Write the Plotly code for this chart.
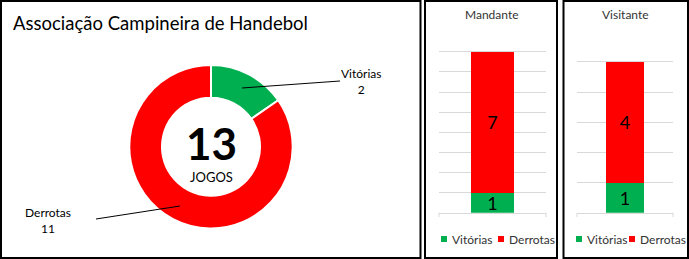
import plotly.graph_objects as go

# ---- data ----
categories = ["Vitórias", "Derrotas"]
total_values = [2, 11]
home_label = "Mandante"
home_values = [1, 7]
away_label = "Visitante"
away_values = [1, 4]
colors = ["#00B050", "#FF0000"]
title_text = "Associação Campineira de Handebol"
center_caption = "JOGOS"

W, H = 689, 259
FONT = "Lato"


def px(x):
    return x / W


def py(y):
    return 1 - y / H


fig = go.Figure()

# donut
cx, cy, r = 211, 146.7, 81.7
fig.add_trace(go.Pie(
    labels=categories, values=total_values, hole=0.6, sort=False,
    direction="clockwise", rotation=0, textinfo="none", hoverinfo="label+value",
    marker=dict(colors=colors, line=dict(color="white", width=2)),
    domain=dict(x=[px(cx - r), px(cx + r)], y=[py(cy + r), py(cy - r)]),
    showlegend=False,
))

# stacked bars
panels = [
    (home_label, home_values, "x2", "y2"),
    (away_label, away_values, "x3", "y3"),
]
for label, vals, xa, ya in panels:
    for cat, v, col in zip(categories, vals, colors):
        fig.add_trace(go.Bar(
            x=[label], y=[v], name=cat, marker=dict(color=col, line=dict(width=0)),
            text=[str(v)], textposition="inside", insidetextanchor="middle",
            constraintext="none", textangle=0,
            textfont=dict(size=18, color="#000000", family=FONT),
            xaxis=xa, yaxis=ya, showlegend=False,
        ))

axis_common_x = dict(showticklabels=False, showgrid=False, zeroline=False,
                     showline=True, linecolor="#D9D9D9", linewidth=1,
                     range=[-0.5, 0.5], fixedrange=True)
axis_common_y = dict(showticklabels=False, showgrid=True, gridcolor="#D9D9D9",
                     gridwidth=1, zeroline=False, showline=False, dtick=1,
                     fixedrange=True)

ydom = [py(212.7), py(31.7)]
fig.update_layout(
    width=W, height=H, margin=dict(l=0, r=0, t=0, b=0),
    paper_bgcolor="white", plot_bgcolor="white",
    barmode="stack", bargap=0.6,
    font=dict(family=FONT, color="#000000"),
    xaxis2=dict(domain=[px(439), px(546)], anchor="y2", **axis_common_x),
    yaxis2=dict(domain=ydom, anchor="x2", range=[0, 9], **axis_common_y),
    xaxis3=dict(domain=[px(577), px(673)], anchor="y3", **axis_common_x),
    yaxis3=dict(domain=ydom, anchor="x3", range=[0, 6], **axis_common_y),
)

shapes = []
annotations = []

# panel borders
for x0, x1 in [(1, 420.5), (425, 557), (563.5, 688)]:
    shapes.append(dict(type="rect", xref="paper", yref="paper",
                       x0=px(x0), x1=px(x1), y0=py(258), y1=py(1),
                       line=dict(color="black", width=2), fillcolor="rgba(0,0,0,0)"))

# axis end ticks
for xa in ["x2", "x3"]:
    for xd in [0, 1]:
        shapes.append(dict(type="line", xref=f"{xa} domain", yref="paper",
                           x0=xd, x1=xd, y0=py(212.7), y1=py(217),
                           line=dict(color="#D9D9D9", width=1)))

# title
annotations.append(dict(text=title_text, x=px(11), y=py(23), xref="paper", yref="paper",
                        xanchor="left", yanchor="middle", showarrow=False,
                        font=dict(size=18.5, color="#000000", family=FONT)))

# center text
annotations.append(dict(text=f"<b>{sum(total_values)}</b>", x=px(cx), y=py(143),
                        xref="paper", yref="paper", xanchor="center", yanchor="middle",
                        showarrow=False, font=dict(size=44, color="#000000", family=FONT)))
annotations.append(dict(text=center_caption, x=px(cx), y=py(177), xref="paper", yref="paper",
                        xanchor="center", yanchor="middle", showarrow=False,
                        font=dict(size=13, color="#000000", family=FONT)))

# slice labels + leader lines
label_pos = [(362, 81), (48, 220)]
leader = [((242, 88), (340, 81)), ((180, 206), (96, 219))]
for cat, v, (lx, ly), ((x0, y0), (x1, y1)) in zip(categories, total_values, label_pos, leader):
    annotations.append(dict(text=f"{cat}<br>{v}", x=px(lx), y=py(ly), xref="paper", yref="paper",
                            xanchor="center", yanchor="middle", showarrow=False,
                            font=dict(size=12, color="#000000", family=FONT)))
    shapes.append(dict(type="line", xref="paper", yref="paper",
                       x0=px(x0), y0=py(y0), x1=px(x1), y1=py(y1),
                       line=dict(color="black", width=1)))

# panel titles
for label, xc in [(home_label, 492), (away_label, 625)]:
    annotations.append(dict(text=label, x=px(xc), y=py(15), xref="paper", yref="paper",
                            xanchor="center", yanchor="middle", showarrow=False,
                            font=dict(size=12, color="#333333", family=FONT)))

# manual legends
for start in [441, 576]:
    x = start
    for cat, col in zip(categories, colors):
        shapes.append(dict(type="rect", xref="paper", yref="paper",
                           x0=px(x), x1=px(x + 6), y0=py(242), y1=py(236),
                           line=dict(width=0), fillcolor=col))
        annotations.append(dict(text=cat, x=px(x + 9), y=py(239), xref="paper", yref="paper",
                                xanchor="left", yanchor="middle", showarrow=False,
                                font=dict(size=12, color="#333333", family=FONT)))
        x += 57 if start == 441 else 53

fig.update_layout(shapes=shapes, annotations=annotations)
fig.write_html("out.html")
